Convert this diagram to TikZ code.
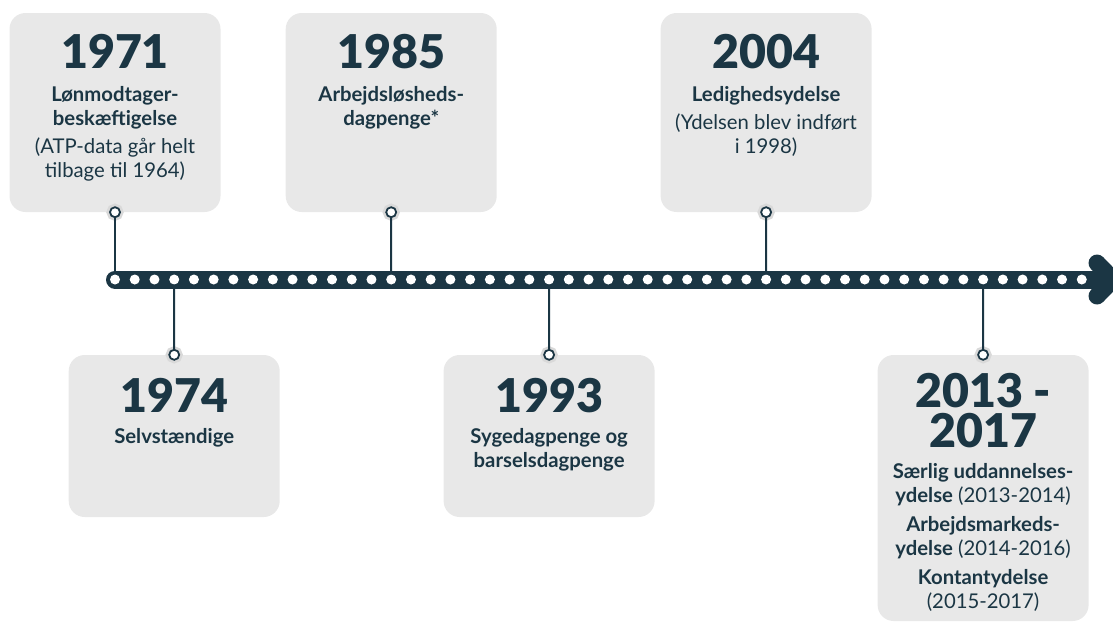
\documentclass[tikz,border=0pt]{standalone}
\usepackage{fontspec}
\setmainfont{Lato}
\newfontfamily\yearfont{Lato Black}
\definecolor{ink}{HTML}{1B3644}
\definecolor{cardgray}{HTML}{E8E8E8}
\definecolor{halogray}{HTML}{D9D9D9}
\tikzset{
  card/.style={fill=cardgray, rounded corners=16pt, minimum width=211pt, inner sep=0pt},
  pin/.style={circle, draw=ink, fill=white, line width=1.8pt, minimum size=10pt, inner sep=0pt,
    preaction={draw=halogray, line width=7pt}},
  bead/.style={circle, fill=white, minimum size=10pt, inner sep=0pt},
  year/.style={font=\yearfont\fontsize{46.5}{40}\selectfont, text=ink, inner sep=0pt, anchor=base, align=center},
  info/.style={font=\fontsize{20.3}{24}\selectfont, text=ink, inner sep=0pt, anchor=base, align=center},
  stem/.style={draw=ink, line width=2pt},
}
\begin{document}
\begin{tikzpicture}[x=1pt,y=-1pt]
\useasboundingbox (0,0) rectangle (1113,622);

% timeline bar with arrow
\draw[ink, line width=18pt, line cap=round] (115,279.5) -- (1102,279.5);
\draw[ink, line width=17pt, line cap=round, line join=round] (1097,263) -- (1113,279.5) -- (1097,296);
\foreach \i in {0,...,49}
  \node[bead] (d\i) at (115+\i*19.73,279.5) {};

% cards above
\node[card, minimum height=199pt] (c1971) at (115,112.5) {};
\node[card, minimum height=199pt] (c1985) at (391.2,112.5) {};
\node[card, minimum height=199pt] (c2004) at (766.1,112.5) {};

% cards below
\node[card, minimum height=162pt] (c1974) at (174.2,436) {};
\node[card, minimum height=162pt] (c1993) at (549.1,436) {};
\node[card, minimum height=266pt] (c2013) at (983.1,488) {};

% stems and pins
\node[pin] (p1971) at (c1971.south) {};
\node[pin] (p1985) at (c1985.south) {};
\node[pin] (p2004) at (c2004.south) {};
\node[pin] (p1974) at (c1974.north) {};
\node[pin] (p1993) at (c1993.north) {};
\node[pin] (p2013) at (c2013.north) {};
\draw[stem] (p1971) -- (d0);
\draw[stem] (p1985) -- (d14);
\draw[stem] (p2004) -- (d33);
\draw[stem] (p1974) -- (d3);
\draw[stem] (p1993) -- (d22);
\draw[stem] (p2013) -- (d44);

% texts (base = last line)
\node[year] (y1971) at (115,68) {1971};
\node[info] (t1971) at (115,177) {\textbf{Lønmodtager-}\\\textbf{beskæftigelse}\\[4pt](ATP-data går helt\\tilbage til 1964)};

\node[year] (y1985) at (391.2,68) {1985};
\node[info] (t1985) at (391.2,125) {\textbf{Arbejdsløsheds-}\\\textbf{dagpenge*}};

\node[year] (y2004) at (766.1,68) {2004};
\node[info] (t2004) at (766.1,153) {\textbf{Ledighedsydelse}\\[4pt](Ydelsen blev indført\\i 1998)};

\node[year] (y1974) at (174.2,412) {1974};
\node[info] (t1974) at (174.2,443) {\textbf{Selvstændige}};

\node[year] (y1993) at (549.1,412) {1993};
\node[info] (t1993) at (549.1,467) {\textbf{Sygedagpenge og}\\\textbf{barselsdagpenge}};

\node[year] (y2013) at (983.1,407) {2013 -};
\node[year] (y2017) at (983.1,447) {2017};
\node[info] (t2013) at (983.1,608) {\textbf{Særlig uddannelses-}\\\textbf{ydelse} (2013-2014)\\[5pt]\textbf{Arbejdsmarkeds-}\\\textbf{ydelse} (2014-2016)\\[5pt]\textbf{Kontantydelse}\\(2015-2017)};

\end{tikzpicture}
\end{document}
